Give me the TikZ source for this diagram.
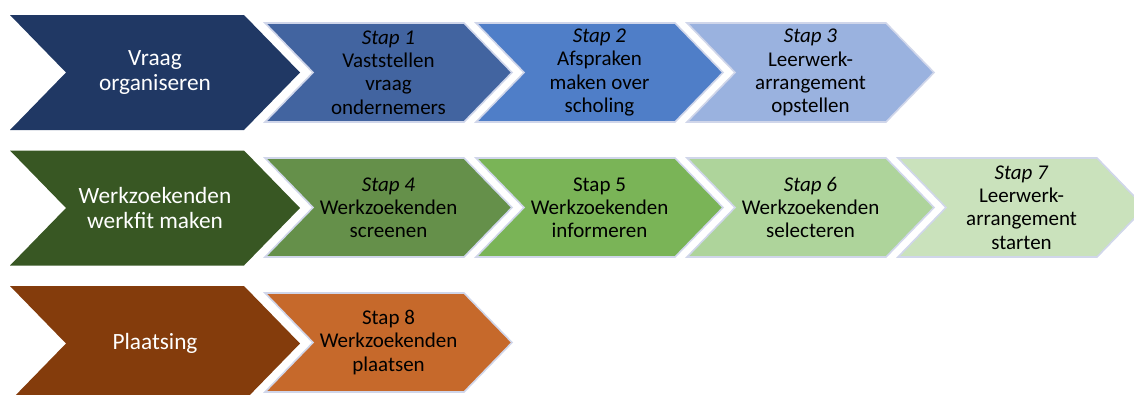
\documentclass[tikz,border=0pt]{standalone}
\usepackage{fontspec}
\setmainfont{Carlito}
\definecolor{mainA}{HTML}{203864}
\definecolor{mainB}{HTML}{385723}
\definecolor{mainC}{HTML}{843C0C}
\definecolor{stepA}{HTML}{4264A0}
\definecolor{stepB}{HTML}{4F7EC8}
\definecolor{stepC}{HTML}{9AB2DF}
\definecolor{stepD}{HTML}{65904A}
\definecolor{stepE}{HTML}{7AB457}
\definecolor{stepF}{HTML}{AED49B}
\definecolor{stepG}{HTML}{CAE2BC}
\definecolor{stepH}{HTML}{C6692B}
\definecolor{rim}{HTML}{D0D6EA}
% chevron: #1 style, #2 left x, #3 centre y, #4 width, #5 half height, #6 point depth
\newcommand\chevron[6]{%
  \path[#1] (#2,#3-#5) -- (#2+#4-#6,#3-#5) -- (#2+#4,#3) -- (#2+#4-#6,#3+#5)
    -- (#2,#3+#5) -- (#2+#6,#3) -- cycle;}
\tikzset{
  phase/.style={fill=#1},
  stepshape/.style={fill=#1, draw=rim, line width=1.6pt, line join=miter},
  phasetext/.style={text=white, align=center, inner sep=0pt,
    font=\fontsize{23.3}{25.6}\selectfont},
  steptext/.style={text=black, align=center, inner sep=0pt,
    font=\fontsize{21}{23.2}\selectfont},
}
\begin{document}
\begin{tikzpicture}[x=1pt,y=-1pt]
\useasboundingbox (0,0) rectangle (1134,394);
\clip (0,0) rectangle (1134,394);

% row 1: vraag organiseren
\chevron{phase=mainA}{10}{72.5}{290}{57.5}{56}
\node[phasetext] (p1) at (155,72.5) {Vraag\\organiseren};
\chevron{stepshape=stepA}{265}{72.5}{247}{49.5}{48}
\node[steptext] (s1) at (388.5,72.5) {\textit{Stap 1}\\Vaststellen\\vraag\\ondernemers};
\chevron{stepshape=stepB}{476}{72.5}{247}{49.5}{48}
\node[steptext] (s2) at (599.5,72.5) {\textit{Stap 2}\\Afspraken\\maken over\\scholing};
\chevron{stepshape=stepC}{687}{72.5}{247}{49.5}{48}
\node[steptext] (s3) at (810.5,72.5) {\textit{Stap 3}\\Leerwerk-\\arrangement\\opstellen};

% row 2: werkzoekenden werkfit maken
\chevron{phase=mainB}{10}{208}{290}{57.5}{56}
\node[phasetext] (p2) at (155,208) {Werkzoekenden\\werkfit maken};
\chevron{stepshape=stepD}{265}{207.5}{247}{49.5}{48}
\node[steptext] (s4) at (388.5,207.5) {\textit{Stap 4}\\Werkzoekenden\\screenen};
\chevron{stepshape=stepE}{476}{207.5}{247}{49.5}{48}
\node[steptext] (s5) at (599.5,207.5) {Stap 5\\Werkzoekenden\\informeren};
\chevron{stepshape=stepF}{687}{207.5}{247}{49.5}{48}
\node[steptext] (s6) at (810.5,207.5) {\textit{Stap 6}\\Werkzoekenden\\selecteren};
\chevron{stepshape=stepG}{898}{207.5}{247}{49.5}{48}
\node[steptext] (s7) at (1021.5,207.5) {\textit{Stap 7}\\Leerwerk-\\arrangement\\starten};

% row 3: plaatsing
\chevron{phase=mainC}{10}{343.5}{290}{57.5}{56}
\node[phasetext] (p3) at (155,343.5) {Plaatsing};
\chevron{stepshape=stepH}{265}{342.5}{247}{49.5}{48}
\node[steptext] (s8) at (388.5,342.5) {Stap 8\\Werkzoekenden\\plaatsen};
\end{tikzpicture}
\end{document}
